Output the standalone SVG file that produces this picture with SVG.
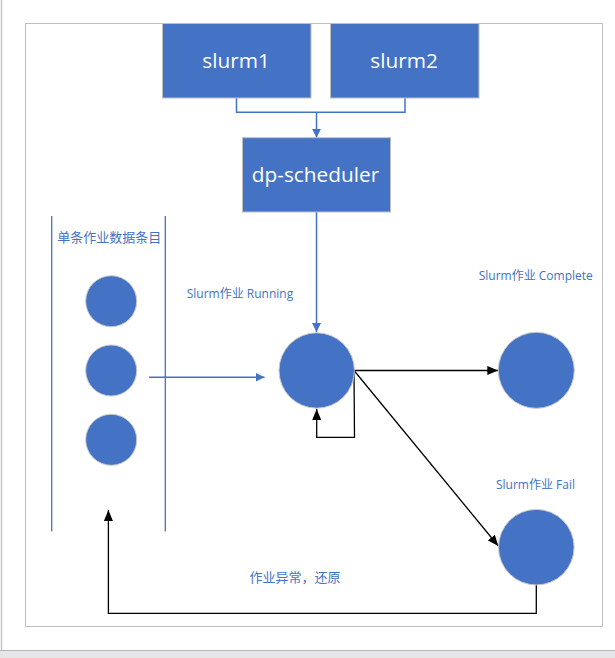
<svg xmlns="http://www.w3.org/2000/svg" width="615" height="658" viewBox="0 0 615 658">
<style>
.box{fill:#4472c4;stroke:#bfbfbf;stroke-width:1}
.dot{fill:#4472c4;stroke:#c8c8c8;stroke-width:1}
.boxtxt{font-family:"Open Sans","Noto Sans",sans-serif;font-size:20.8px;fill:#ffffff;text-anchor:middle}
.lbl{font-family:"Open Sans","Noto Sans CJK SC",sans-serif;font-size:12px;fill:#4472c4}
.cjk{font-family:"Noto Sans CJK SC",sans-serif;font-size:13px;fill:#4472c4}
.blue{fill:none;stroke:#4472c4;stroke-width:1.5}
.black{fill:none;stroke:#000000;stroke-width:1.3}
</style>
<defs>
<marker id="ab" markerUnits="userSpaceOnUse" markerWidth="9" markerHeight="9" refX="9" refY="4.5" orient="auto"><path d="M0,0 L9,4.5 L0,9 z" fill="#4472c4"/></marker>
<marker id="ak" markerUnits="userSpaceOnUse" markerWidth="11" markerHeight="9" refX="11" refY="4.5" orient="auto"><path d="M0,0 L11,4.5 L0,9 z" fill="#000000"/></marker>
</defs>
<rect x="0" y="0" width="615" height="658" fill="#ffffff"/>
<line x1="1.5" y1="0" x2="1.5" y2="650" stroke="#c8c8c8" stroke-width="1.5"/>
<rect x="0" y="650.5" width="615" height="7.5" fill="#e6e6e6"/>
<line x1="0" y1="650.5" x2="615" y2="650.5" stroke="#b4b8c2" stroke-width="1"/>
<rect id="frame" x="25.5" y="23.5" width="577" height="603" fill="none" stroke="#bfbfbf" stroke-width="1"/>
<g id="connectors">
<polyline class="blue" points="236.5,98 236.5,112.3 405,112.3 405,98"/>
<line class="blue" x1="316.5" y1="112.3" x2="316.5" y2="137.7" marker-end="url(#ab)"/>
<line class="blue" x1="316.5" y1="212" x2="316.5" y2="332" marker-end="url(#ab)"/>
<line class="blue" x1="149" y1="377.3" x2="264.5" y2="377.3" marker-end="url(#ab)"/>
<line class="black" x1="354" y1="370.5" x2="498.3" y2="370.5" marker-end="url(#ak)"/>
<polyline class="black" points="354,370.5 354.5,437.3 316.7,437.3 316.7,409" marker-end="url(#ak)"/>
<line class="black" x1="354" y1="370.5" x2="498.3" y2="546" marker-end="url(#ak)"/>
<polyline class="black" points="536.3,585 536.3,613.3 108.4,613.3 108.4,510" marker-end="url(#ak)"/>
</g>
<g id="slurm1"><rect class="box" x="162.5" y="23.5" width="148.5" height="74.5"/><text class="boxtxt" x="236" y="68.3">slurm1</text></g>
<g id="slurm2"><rect class="box" x="330.5" y="23.5" width="148.5" height="74.5"/><text class="boxtxt" x="404" y="68.3">slurm2</text></g>
<g id="dp-scheduler"><rect class="box" x="242.5" y="137.7" width="148" height="74.3"/><text class="boxtxt" x="315.5" y="181.7">dp-scheduler</text></g>
<g id="queue">
<line x1="51.7" y1="216" x2="51.7" y2="531.5" stroke="#4472c4" stroke-width="1.3"/>
<line x1="165.3" y1="216" x2="165.3" y2="531.5" stroke="#4472c4" stroke-width="1.3"/>
<text class="cjk" x="57.3" y="242">单条作业数据条目</text>
</g>
<g id="item1"><circle class="dot" cx="111.2" cy="301.2" r="25.5"/></g>
<g id="item2"><circle class="dot" cx="111.2" cy="370.5" r="25.5"/></g>
<g id="item3"><circle class="dot" cx="111.2" cy="439.8" r="25.5"/></g>
<g id="running"><circle class="dot" cx="316.7" cy="370.5" r="37.7"/><text class="lbl" x="186.7" y="297.5">Slurm作业 Running</text></g>
<g id="complete"><circle class="dot" cx="536.3" cy="370.3" r="38"/><text class="lbl" x="478.7" y="280">Slurm作业 Complete</text></g>
<g id="fail"><circle class="dot" cx="536.3" cy="547.2" r="37.8"/><text class="lbl" x="496" y="489">Slurm作业 Fail</text></g>
<g id="restore-label"><text class="cjk" x="249.4" y="582.3">作业异常，还原</text></g>
</svg>
